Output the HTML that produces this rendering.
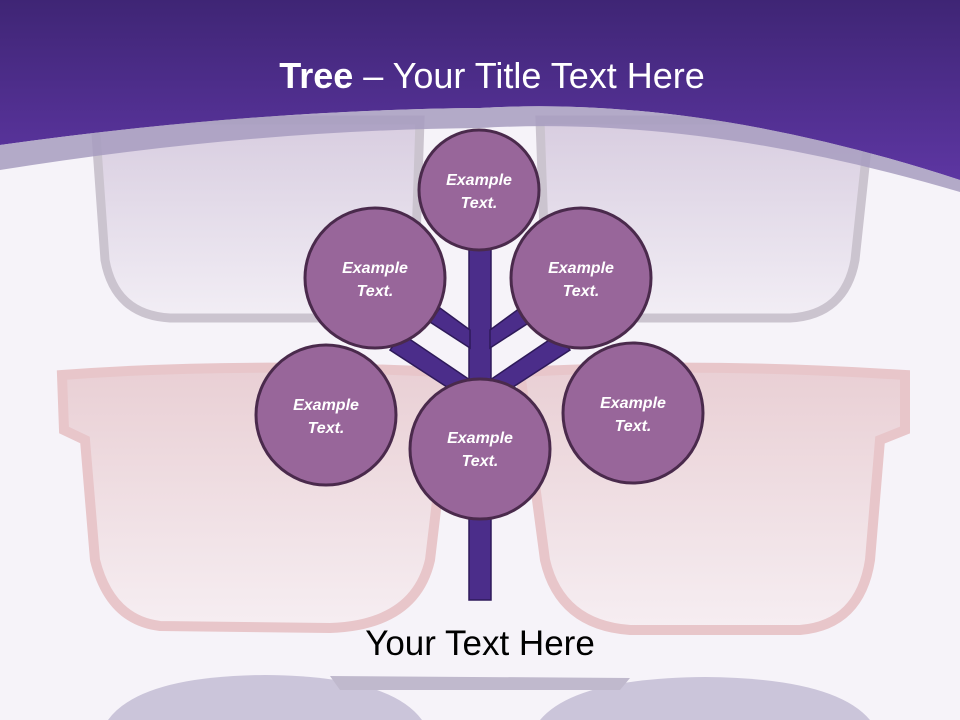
<!DOCTYPE html>
<html><head><style>
html,body{margin:0;padding:0;background:#f6f3f9;width:960px;height:720px;overflow:hidden;}
svg{display:block;overflow:hidden}
text{font-family:"Liberation Sans",sans-serif;}
</style></head><body>
<svg width="960" height="720" viewBox="0 0 960 720" xmlns="http://www.w3.org/2000/svg">
<defs>
<linearGradient id="hd" x1="0" y1="0" x2="0" y2="1">
<stop offset="0" stop-color="#3f2575"/><stop offset="1" stop-color="#5d36a2"/></linearGradient>
<linearGradient id="rl" x1="0" y1="0" x2="0" y2="1">
<stop offset="0" stop-color="#e9cfd4"/><stop offset="1" stop-color="#f6eef2"/></linearGradient>
<linearGradient id="gl" x1="0" y1="0" x2="0" y2="1">
<stop offset="0" stop-color="#d8cde0"/><stop offset="1" stop-color="#f2eef5"/></linearGradient>
</defs>
<rect width="960" height="720" fill="#f6f3f9"/>
<path d="M95 120 L420 120 L415 270 Q405 320 340 318 L170 318 Q115 315 105 260 Z" fill="url(#gl)" stroke="#cbc4cf" stroke-width="9"/>
<path d="M540 120 L870 120 L855 260 Q845 315 790 318 L615 318 Q555 315 545 260 Z" fill="url(#gl)" stroke="#cbc4cf" stroke-width="9"/>
<path d="M62 375 Q240 362 440 372 L452 375 L430 560 Q415 625 330 628 L160 626 Q110 620 95 560 L85 440 L64 430 Z" fill="url(#rl)" stroke="#e8c6ca" stroke-width="10"/>
<path d="M520 372 Q700 362 905 375 L905 430 L880 440 L870 560 Q860 625 800 630 L630 630 Q560 625 545 560 Z" fill="url(#rl)" stroke="#e8c6ca" stroke-width="10"/>
<path d="M108 720 Q140 676 265 675 Q390 676 422 720 Z" fill="#cbc5da"/>
<path d="M540 720 Q575 678 705 677 Q835 678 870 720 Z" fill="#cbc5da"/>
<path d="M330 676 L630 678 L620 690 L340 690 Z" fill="#c0b9cd"/>
<path d="M0 0 H960 V180 Q700 95 480 108 Q250 110 0 145 Z" fill="url(#hd)"/>
<path d="M0 145 Q250 110 480 108 Q700 95 960 180 L960 192 Q700 115 480 128 Q250 130 0 170 Z" fill="#a79cbf" opacity="0.85"/>
<text x="492" y="88" text-anchor="middle" font-size="36" fill="#fff"><tspan font-weight="bold">Tree</tspan> – Your Title Text Here</text>
<g stroke="#2e1a5a" stroke-width="1.5" fill="#4b2d8a">
<rect x="469" y="240" width="22" height="360"/>
<polygon points="470,330 470,348 430,322 440,308"/>
<polygon points="490,330 490,348 530,322 520,308"/>
<polygon points="470,380 470,402 390,350 402,334"/>
<polygon points="490,380 490,402 570,350 558,334"/>
</g>
<g fill="#98669a" stroke="#4a2a4c" stroke-width="3">
<circle cx="479" cy="190" r="60"/>
<circle cx="375" cy="278" r="70"/>
<circle cx="581" cy="278" r="70"/>
<circle cx="326" cy="415" r="70"/>
<circle cx="633" cy="413" r="70"/>
<circle cx="480" cy="449" r="70"/>
</g>
<g fill="#fff" font-size="16" font-weight="bold" font-style="italic" text-anchor="middle">
<text x="479" y="185">Example</text><text x="479" y="208">Text.</text>
<text x="375" y="273">Example</text><text x="375" y="296">Text.</text>
<text x="581" y="273">Example</text><text x="581" y="296">Text.</text>
<text x="326" y="410">Example</text><text x="326" y="433">Text.</text>
<text x="633" y="408">Example</text><text x="633" y="431">Text.</text>
<text x="480" y="443">Example</text><text x="480" y="466">Text.</text>
</g>
<text x="480" y="655" text-anchor="middle" font-size="35" fill="#000">Your Text Here</text>
</svg>
</body></html>
